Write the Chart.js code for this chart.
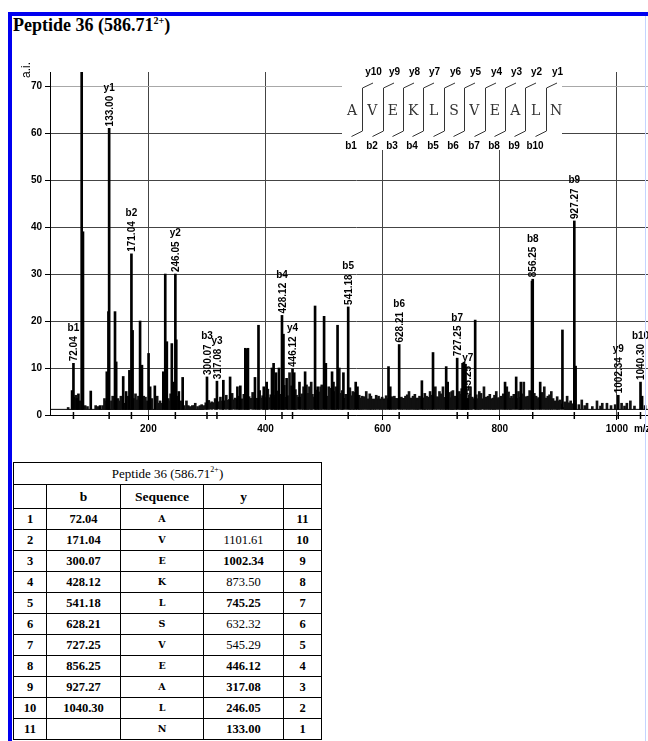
<!DOCTYPE html>
<html>
<head>
<meta charset="utf-8">
<title>Peptide 36</title>
<script src="https://cdn.jsdelivr.net/npm/chart.js@4.4.1/dist/chart.umd.min.js"></script>
<style>
  html, body { margin: 0; padding: 0; background: #fff; }
  body { position: relative; width: 648px; height: 741px; overflow: hidden; }
  .bar-top { position: absolute; left: 8px; top: 12px; width: 640px; height: 4px; background: #0000f0; }
  .bar-left { position: absolute; left: 8px; top: 12px; width: 4px; height: 729px; background: #0000f0; }
  .edge { position: absolute; left: 645px; top: 16px; width: 1px; height: 725px; background: #c4d4ff; z-index: 3; }
  .title { position: absolute; left: 13px; top: 15px; font: bold 18px/20px "Liberation Serif", "Times New Roman", serif; white-space: nowrap; }
  .title sup { font-size: 10px; line-height: 0; vertical-align: 7px; }
  #ions sup { font-size: 8px; line-height: 0; vertical-align: 6px; }
  #spec { position: absolute; left: 12px; top: 40px; }
  #ions { position: absolute; left: 13px; top: 462px; width: 308px; border-collapse: collapse; table-layout: fixed;
          font-family: "Liberation Serif", "Times New Roman", serif; color: #000; }
  #ions td { border: 1px solid #000; padding: 0; text-align: center; vertical-align: middle;
             font-weight: bold; font-size: 12.5px; height: 20px; line-height: 14px; }
  #ions tr.cap td { height: 21px; font-weight: normal; font-size: 13px; }
  #ions tr.hd td { height: 23px; font-size: 13.5px; }
  #ions td.aa { font-family: "DejaVu Serif", "Liberation Serif", serif; font-size: 9.5px; }
  #ions td.weak { font-weight: normal; }
</style>
</head>
<body>
<div class="bar-top"></div>
<div class="bar-left"></div>
<div class="edge"></div>
<div class="title">Peptide 36 (586.71<sup>2+</sup>)</div>
<canvas id="spec" width="650" height="410"></canvas>
<table id="ions">
  <colgroup><col style="width:33px"><col style="width:74px"><col style="width:83px"><col style="width:80px"><col style="width:38px"></colgroup>
  <tr class="cap"><td colspan="5">Peptide 36 (586.71<sup>2+</sup>)</td></tr>
  <tr class="hd"><td></td><td>b</td><td>Sequence</td><td>y</td><td></td></tr>
</table>
<script>
  const BASE = 1.2;

  const seq = ['A', 'V', 'E', 'K', 'L', 'S', 'V', 'E', 'A', 'L', 'N'];

  // fragment table
  const bTable = ['72.04', '171.04', '300.07', '428.12', '541.18', '628.21', '727.25', '856.25', '927.27', '1040.30', ''];
  const yTable = ['', '1101.61', '1002.34', '873.50', '745.25', '632.32', '545.29', '446.12', '317.08', '246.05', '133.00'];
  const yFound = [false, false, true, false, true, false, false, true, true, true, true];

  // annotated ions in the spectrum
  const ionNames = ['b1', 'y1', 'b2', 'y2', 'b3', 'y3', 'b4', 'y4', 'b5', 'b6', 'b7', 'y7', 'b8', 'b9', 'y9', 'b10'];
  const ionMz = [72.04, 133.00, 171.04, 246.05, 300.07, 317.08, 428.12, 446.12, 541.18, 628.21, 727.25, 745.25, 856.25, 927.27, 1002.34, 1040.30];
  const ionInt = [11, 61, 34.3, 30, 8.1, 7.2, 21.2, 9.8, 23, 15, 12.1, 3.5, 28.9, 41.3, 4.2, 7];

  // other clear peaks
  const peakMz = [69.7, 77.5, 80.5, 86.1, 88.3, 101.6, 117.5, 129, 131.8, 143,
    145, 157, 162, 167.6, 173, 185.8, 189, 200.3, 203, 211,
    225.5, 228.8, 231.5, 240, 243, 247.6, 252, 258.5, 328, 339.5,
    352, 357, 365.5, 367.8, 370, 382, 388, 397, 402, 411,
    413.8, 418, 423, 430.6, 436, 449, 458, 467.6, 484.6, 489,
    500, 503, 513.6, 516, 523, 533, 554, 557, 610, 613,
    667, 686, 708.5, 711, 736.5, 739, 741.5, 758, 809, 828,
    836, 855, 869, 907, 929.5, 1043];
  const peakInt = [5.2, 3.5, 4.5, 80, 39, 5.1, 2, 9.2, 22, 22,
    11.3, 8.2, 5, 9.5, 18, 20, 10.6, 13.1, 6, 6.2,
    9.2, 30, 15.6, 15.2, 7, 16, 5, 8, 7.4, 8.1,
    6, 6.2, 14.2, 14, 14.2, 8, 19.1, 6, 7, 10,
    11, 9, 10, 17.2, 7.8, 9, 7, 9.2, 23.2, 6,
    21, 11, 9.2, 7, 19.1, 9, 7, 6, 10.3, 6,
    7.3, 13.3, 10.3, 7, 11, 11.2, 10.8, 20.2, 7, 8.1,
    7, 28.5, 7, 18.1, 10.4, 4];

  // small peaks of the chemical noise
  const noiseMz = [63, 74.5, 76, 79, 83.5, 92, 96, 110, 114, 122,
    125, 127, 137, 139, 148, 151, 153, 160, 165, 176,
    178, 181, 183, 192, 195, 198, 206, 215, 217, 220,
    222, 234, 236, 238, 244, 250, 255, 261, 265, 268,
    271, 275, 278, 280, 284, 288, 291, 295, 298, 303,
    308, 314, 323, 327, 333, 338, 343, 348, 355, 360,
    363, 372, 378, 385, 390, 395, 400, 404, 409, 417,
    421, 426, 432, 439, 441, 444, 451, 453, 462, 465,
    470, 472, 475, 478, 480, 486, 491, 494, 496, 506,
    508, 511, 518, 520, 526, 529, 531, 537, 544, 546,
    549, 551, 560, 562, 565, 568, 572, 575, 578, 580,
    583, 586, 589, 593, 596, 599, 603, 606, 616, 620,
    623, 632, 635, 639, 642, 645, 648, 652, 655, 658,
    660, 663, 670, 672, 675, 678, 681, 684, 690, 693,
    697, 700, 703, 706, 714, 716, 718, 720, 722, 725,
    731, 733, 735, 743, 748, 750, 753, 760, 763, 765,
    768, 773, 776, 780, 783, 786, 789, 791, 794, 798,
    802, 806, 812, 815, 818, 820, 824, 832, 834, 839,
    841, 845, 848, 851, 859, 862, 866, 872, 876, 879,
    882, 885, 888, 891, 895, 898, 900, 903, 911, 915,
    918, 921, 924, 935, 940, 945, 949, 958, 966, 972,
    975, 983, 990, 997, 1008, 1013, 1017, 1023, 1030, 1048];
  const noiseInt = [1.6, 3.8, 4.2, 3.5, 3.0, 2.0, 1.8, 2.0, 1.8, 2.0,
    3.5, 3.0, 3.0, 4.0, 3.5, 3.0, 4.0, 2.5, 4.0, 3.5,
    4.5, 3.2, 4.0, 4.0, 3.8, 3.0, 3.5, 4.0, 2.5, 3.0,
    2.5, 3.5, 3.0, 4.5, 3.5, 4.0, 3.0, 2.0, 3.0, 2.0,
    1.8, 2.0, 2.0, 2.5, 1.8, 2.0, 2.2, 2.0, 2.6, 3.1,
    2.8, 3.5, 3.8, 3.0, 4.2, 3.3, 4.6, 3.6, 4.0, 3.2,
    4.4, 3.9, 4.8, 3.5, 5.2, 4.1, 3.7, 5.5, 4.3, 4.2,
    5.1, 4.4, 6.3, 4.1, 9.0, 6.2, 5.4, 4.2, 4.5, 6.0,
    6.4, 4.6, 6.0, 7.0, 4.4, 5.3, 4.9, 6.0, 6.4, 4.0,
    6.0, 5.7, 5.0, 6.0, 10.0, 4.6, 5.2, 4.4, 5.8, 4.1,
    5.0, 4.8, 4.2, 3.6, 4.0, 3.9, 5.0, 3.4, 4.5, 4.0,
    3.3, 3.0, 4.2, 4.0, 3.0, 3.8, 3.0, 4.1, 3.9, 4.0,
    3.5, 3.8, 3.2, 4.0, 4.3, 5.0, 3.6, 4.0, 4.4, 3.1,
    3.0, 4.0, 3.4, 4.6, 4.0, 3.8, 5.0, 4.2, 6.0, 3.9,
    5.0, 4.5, 6.0, 3.7, 4.8, 3.5, 5.0, 5.2, 4.0, 4.0,
    5.0, 4.4, 5.6, 6.0, 4.2, 6.0, 3.8, 4.3, 3.4, 5.0,
    4.6, 6.0, 3.8, 4.0, 4.4, 3.0, 3.6, 4.2, 5.0, 3.7,
    4.0, 4.5, 6.0, 4.9, 3.6, 4.0, 4.4, 5.0, 3.8, 4.5,
    7.0, 3.9, 4.0, 5.2, 4.6, 4.0, 3.7, 4.8, 6.0, 3.6,
    4.0, 4.3, 5.0, 3.5, 3.0, 3.9, 3.0, 3.2, 2.8, 4.0,
    2.6, 3.0, 2.4, 2.2, 3.2, 2.0, 2.5, 1.8, 3.0, 1.9,
    2.5, 2.5, 2.0, 2.2, 2.5, 1.9, 2.5, 3.0, 1.9, 2.0];

  // top of the dense noise band
  const floorMz = [32, 295, 298, 330, 360, 420, 500, 560, 640, 700, 760, 850, 903, 910, 1077];
  const floorInt = [1.2, 1.2, 2.3, 3.0, 3.4, 3.7, 3.8, 3.3, 3.5, 3.7, 3.4, 3.5, 2.7, 1.2, 1.2];

  const SANS = '"Liberation Sans", Arial, sans-serif';

  function sticks(mz, val) {
    return mz.map((x, i) => ({ x: x, y: [BASE, val[i]] }));
  }

  function buildTable() {
    const table = document.getElementById('ions');
    seq.forEach((aa, i) => {
      const tr = document.createElement('tr');
      const cells = [String(i + 1), bTable[i], aa, yTable[i], String(seq.length - i)];
      cells.forEach((txt, c) => {
        const td = document.createElement('td');
        td.textContent = txt;
        if (c === 2) td.className = 'aa';
        if (c === 3 && !yFound[i]) td.className = 'weak';
        tr.appendChild(td);
      });
      table.appendChild(tr);
    });
  }

  function drawIonLabels(chart) {
    const ctx = chart.ctx;
    const xs = chart.scales.x, ys = chart.scales.y;
    ctx.save();
    ctx.fillStyle = '#000';
    ctx.font = 'bold 10px ' + SANS;
    ionMz.forEach((mz, i) => {
      const x = xs.getPixelForValue(mz);
      const top = ys.getPixelForValue(ionInt[i]) - 2;
      const txt = mz.toFixed(2);
      const w = ctx.measureText(txt).width;
      ctx.save();
      ctx.translate(x, top);
      ctx.rotate(-Math.PI / 2);
      ctx.textAlign = 'left';
      ctx.textBaseline = 'alphabetic';
      ctx.fillText(txt, 0, 3.6);
      ctx.restore();
      ctx.textAlign = 'center';
      ctx.textBaseline = 'alphabetic';
      ctx.fillText(ionNames[i], x, top - w - 5);
    });
    ctx.restore();
  }

  function drawSequence(chart) {
    const ctx = chart.ctx, a = chart.chartArea;
    const x0 = a.left + 302, step = 20.4;
    ctx.save();
    ctx.fillStyle = '#fff';
    ctx.fillRect(a.left + 292, a.top - 12, 220, 90);

    ctx.fillStyle = '#333';
    ctx.font = '14px "DejaVu Serif", "Liberation Serif", serif';
    ctx.textAlign = 'center';
    ctx.textBaseline = 'middle';
    seq.forEach((aa, i) => ctx.fillText(aa, x0 + i * step, a.top + 39));

    ctx.strokeStyle = '#333';
    ctx.lineWidth = 1;
    ctx.fillStyle = '#000';
    ctx.font = 'bold 10px ' + SANS;
    for (let k = 0; k < seq.length - 1; k++) {
      const sx = Math.round(x0 + (k + 0.5) * step) + 0.5;
      ctx.beginPath();
      ctx.moveTo(sx + 10.5, a.top + 11);
      ctx.lineTo(sx, a.top + 16);
      ctx.lineTo(sx, a.top + 59);
      ctx.lineTo(sx - 11, a.top + 64.5);
      ctx.stroke();
      ctx.fillText('y' + (seq.length - 1 - k), sx + 11, a.top);
      ctx.fillText('b' + (k + 1), sx - 11.5, a.top + 74);
    }
    ctx.restore();
  }

  function drawAxisExtras(chart) {
    const ctx = chart.ctx, a = chart.chartArea;
    const xs = chart.scales.x;
    ctx.save();
    ctx.fillStyle = '#000';

    ctx.save();
    ctx.translate(a.left - 23, a.top - 2);
    ctx.rotate(-Math.PI / 2);
    ctx.font = '12px ' + SANS;
    ctx.textAlign = 'center';
    ctx.textBaseline = 'middle';
    ctx.fillText('a.i.', 0, 0);
    ctx.restore();

    ctx.font = 'bold 10px ' + SANS;
    ctx.textAlign = 'left';
    ctx.textBaseline = 'middle';
    ctx.fillText('m/z', xs.getPixelForValue(1000) + 17, a.bottom + 14.5);

    // small marks on the axis under the assigned ions
    ctx.strokeStyle = '#000';
    ctx.lineWidth = 1.5;
    ionMz.forEach(mz => {
      const x = xs.getPixelForValue(mz);
      ctx.beginPath();
      ctx.moveTo(x, a.bottom - 3);
      ctx.lineTo(x, a.bottom + 4);
      ctx.stroke();
    });
    ctx.restore();
  }

  const decor = {
    id: 'decor',
    afterDatasetsDraw(chart) {
      drawIonLabels(chart);
    },
    afterDraw(chart) {
      drawSequence(chart);
      drawAxisExtras(chart);
    }
  };

  function setupChart() {
    const canvas = document.getElementById('spec').getContext('2d');
    const tickFont = { family: SANS, size: 10, weight: 'bold' };

    new Chart(canvas, {
      type: 'bar',
      data: {
        datasets: [{
          type: 'line',
          label: 'floor',
          data: floorMz.map((x, i) => ({ x: x, y: floorInt[i] })),
          fill: { value: BASE },
          borderColor: '#000',
          backgroundColor: '#111',
          borderWidth: 1,
          pointRadius: 0,
          tension: 0,
          order: 4
        }, {
          label: 'noise',
          data: sticks(noiseMz, noiseInt),
          backgroundColor: '#111',
          barThickness: 2,
          grouped: false,
          order: 3
        }, {
          label: 'peaks',
          data: sticks(peakMz, peakInt),
          backgroundColor: '#000',
          barThickness: 2,
          grouped: false,
          order: 2
        }, {
          label: 'ions',
          data: sticks(ionMz, ionInt),
          backgroundColor: '#000',
          barThickness: 2,
          grouped: false,
          order: 1
        }]
      },
      options: {
        responsive: false,
        animation: false,
        events: [],
        layout: { padding: { top: 32, left: 0, right: 0, bottom: 0 } },
        plugins: {
          legend: { display: false },
          tooltip: { enabled: false }
        },
        scales: {
          x: {
            type: 'linear',
            min: 32,
            max: 1077,
            offset: false,
            ticks: {
              stepSize: 200, includeBounds: false, color: '#000', font: tickFont, padding: 3, maxRotation: 0,
              callback: v => String(v)
            },
            grid: { color: '#444', lineWidth: 1, tickLength: 5, tickColor: '#000', offset: false },
            border: { display: true, color: '#000', width: 1 },
            afterFit: function (s) { s.height = 35; }
          },
          y: {
            min: 0,
            max: 73,
            ticks: { stepSize: 10, includeBounds: false, color: '#000', font: tickFont, padding: 3 },
            grid: {
              color: c => (c.tick && c.tick.value === 70) ? '#a8a8a8' : '#444',
              lineWidth: 1, tickLength: 5, tickColor: '#000'
            },
            border: { display: true, color: '#000', width: 1 },
            afterFit: function (s) { s.width = 38; }
          }
        }
      },
      plugins: [decor]
    });
  }

  buildTable();
  setupChart();
</script>
</body>
</html>
